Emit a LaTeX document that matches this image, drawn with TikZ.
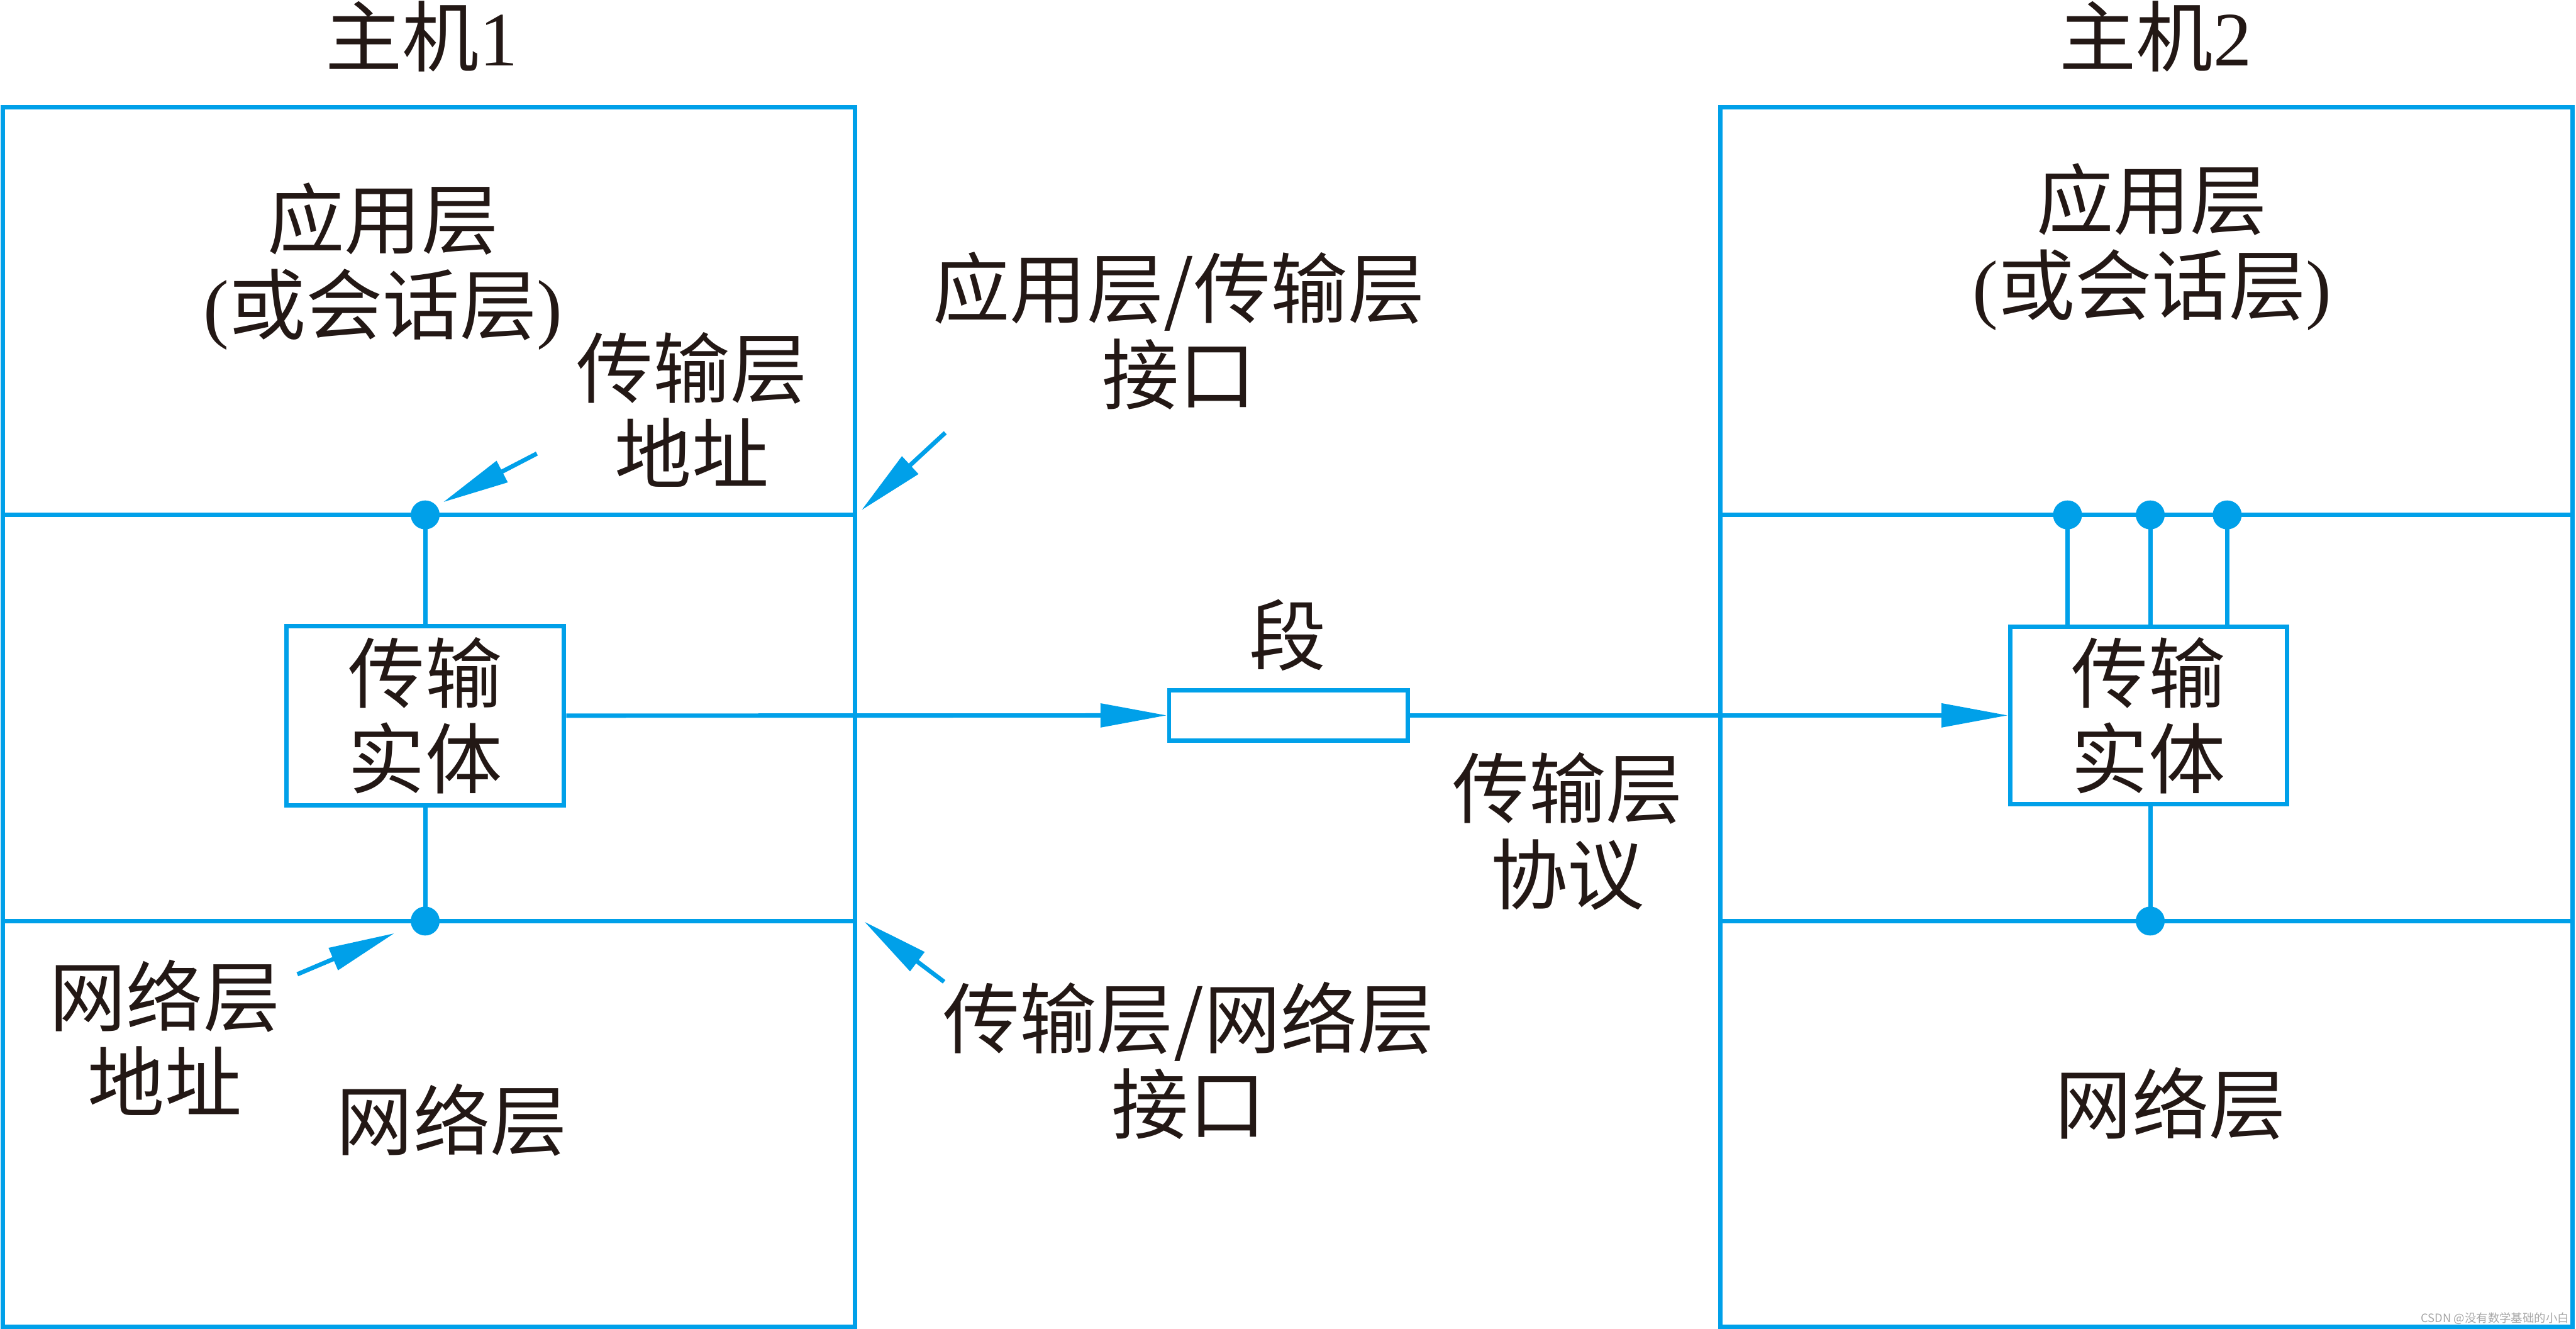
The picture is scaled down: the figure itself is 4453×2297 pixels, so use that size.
\documentclass[tikz,border=0pt]{standalone}
\usepackage{fontspec}
\setmainfont{Liberation Serif}
\newfontfamily\cjk{Noto Sans CJK SC}
\usetikzlibrary{arrows.meta}
\definecolor{netblue}{RGB}{0,160,233}
\definecolor{inkc}{RGB}{35,24,21}
\tikzset{
  ln/.style={draw=netblue, line width=7.5pt},
  lbl/.style={text=inkc, font=\cjk\fontsize{133}{148}\selectfont, align=center, inner sep=0pt},
  dot/.style={circle, fill=netblue, draw=none, minimum size=50pt, inner sep=0pt},
  entbox/.style={ln, fill=white, minimum width=480pt, minimum height=310pt, inner sep=0pt},
  segbox/.style={ln, fill=white, minimum width=413pt, minimum height=87pt, inner sep=0pt},
  tip/.style={-{Triangle[length=115pt,width=40pt]}},
}
\begin{document}
\begin{tikzpicture}[x=1pt,y=-1pt]
\useasboundingbox (0,0) rectangle (4453,2297);
\fill[white] (0,0) rectangle (4453,2297);

% host frames
\draw[ln] (5,185) rectangle (1478,2293);
\draw[ln] (2974,185) rectangle (4447,2293);
% layer boundaries
\draw[ln] (5,890) -- (1478,890);
\draw[ln] (5,1592) -- (1478,1592);
\draw[ln] (2974,890) -- (4447,890);
\draw[ln] (2974,1592) -- (4447,1592);

% titles
\node[lbl] (t1) at (729,63) {主机{\rmfamily 1}};
\node[lbl] (t2) at (3726,63) {主机{\rmfamily 2}};

% layer labels
\node[lbl] (app1) at (662,461) {应用层\\{\rmfamily(}或会话层{\rmfamily)}};
\node[lbl] (app2) at (3720,427) {应用层\\{\rmfamily(}或会话层{\rmfamily)}};
\node[lbl] (net1) at (781,1936) {网络层};
\node[lbl] (net2) at (3752,1908) {网络层};

% transport entities
\node[entbox, lbl, draw=netblue, line width=7.5pt] (e1) at (735,1237) {传输\\实体};
\node[entbox, lbl, draw=netblue, line width=7.5pt, minimum width=478pt, minimum height=307pt] (e2) at (3714,1236.5) {传输\\实体};

% segment
\node[segbox] (seg) at (2227.5,1236.5) {};
\node[lbl] (segl) at (2226,1098) {段};
\node[lbl] (proto) at (2710,1437) {传输层\\协议};

% dots host 1
\node[dot] (d1a) at (735,890) {};
\node[dot] (d1b) at (735,1592) {};
% dots host 2
\node[dot] (d2a) at (3574,890) {};
\node[dot] (d2b) at (3717,890) {};
\node[dot] (d2c) at (3850,890) {};
\node[dot] (d2d) at (3717,1592) {};

% vertical links
\draw[ln] (d1a.center) -- (d1a.center |- e1.north);
\draw[ln] (d1b.center) -- (d1b.center |- e1.south);
\draw[ln] (d2a.center) -- (d2a.center |- e2.north);
\draw[ln] (d2b.center) -- (d2b.center |- e2.north);
\draw[ln] (d2c.center) -- (d2c.center |- e2.north);
\draw[ln] (d2d.center) -- (d2d.center |- e2.south);

% data flow
\draw[ln, tip] (e1.east) -- (seg.west);
\draw[ln, tip] (seg.east) -- (e2.west);

% annotations
\node[lbl] (tpaddr) at (1196,708) {传输层\\地址};
\node[lbl] (atif) at (2038,572) {应用层/传输层\\接口};
\node[lbl] (nwaddr) at (285,1794) {网络层\\地址};
\node[lbl] (tnif) at (2055,1833) {传输层/网络层\\接口};

\coordinate (a1s) at (928,784);
\coordinate (a1e) at (766,868);
\coordinate (a2s) at (1634,748);
\coordinate (a2e) at (1489,882);
\coordinate (a3s) at (514,1684);
\coordinate (a3e) at (682,1613);
\coordinate (a4s) at (1632,1697);
\coordinate (a4e) at (1494,1593);
\draw[ln, tip] (a1s) -- (a1e);
\draw[ln, tip] (a2s) -- (a2e);
\draw[ln, tip] (a3s) -- (a3e);
\draw[ln, tip] (a4s) -- (a4e);

% watermark
\node[text=gray!70, font=\cjk\fontsize{20}{20}\selectfont, inner sep=0pt] (wm) at (4313,2279) {CSDN @没有数学基础的小白};
\end{tikzpicture}
\end{document}
